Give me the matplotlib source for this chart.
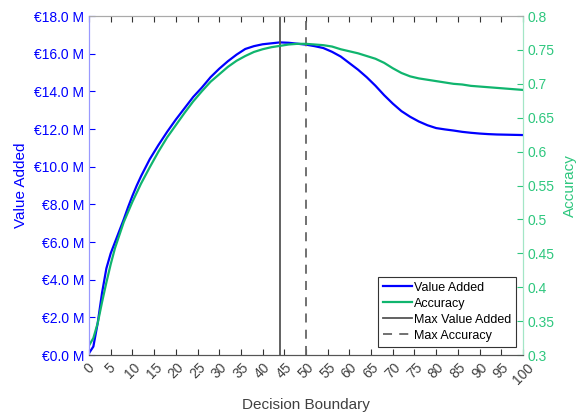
import matplotlib
matplotlib.use("Agg")
import matplotlib.pyplot as plt
from matplotlib.ticker import FuncFormatter

plt.rcParams['font.family'] = ['Liberation Sans', 'DejaVu Sans']

# Value added (millions of euro) vs decision boundary
va_x = [0, 1, 2, 3, 4, 5, 6, 7, 8, 9, 10, 11, 12, 14, 16, 18, 20, 22, 24, 26, 28, 30,
        32, 34, 36, 38, 40, 42, 44, 46, 48, 50, 52, 54, 56, 58, 60, 62, 64, 66, 68,
        70, 72, 74, 76, 78, 80, 82, 84, 86, 88, 90, 92, 94, 96, 98, 100]
va_y = [0.1, 0.45, 1.7, 3.3, 4.6, 5.4, 6.0, 6.6, 7.2, 7.85, 8.45, 9.0, 9.5, 10.4,
        11.15, 11.85, 12.5, 13.1, 13.7, 14.2, 14.75, 15.2, 15.6, 15.95, 16.25, 16.4,
        16.5, 16.55, 16.6, 16.58, 16.53, 16.48, 16.4, 16.3, 16.1, 15.85, 15.5, 15.15,
        14.75, 14.3, 13.8, 13.35, 12.95, 12.65, 12.4, 12.2, 12.05, 11.98, 11.92,
        11.85, 11.8, 11.76, 11.73, 11.71, 11.7, 11.69, 11.68]

# Accuracy vs decision boundary
acc_x = [0, 1, 2, 3, 4, 5, 6, 8, 10, 12, 14, 16, 18, 20, 22, 24, 26, 28, 30, 32, 34,
         36, 38, 40, 42, 44, 46, 48, 50, 52, 54, 56, 58, 60, 62, 64, 66, 68, 70, 72,
         74, 76, 78, 80, 82, 84, 86, 88, 90, 92, 94, 96, 98, 100]
acc_y = [0.314, 0.325, 0.347, 0.378, 0.407, 0.434, 0.458, 0.496, 0.526, 0.553, 0.577,
         0.6, 0.621, 0.639, 0.657, 0.674, 0.689, 0.703, 0.714, 0.725, 0.734, 0.741,
         0.747, 0.751, 0.754, 0.756, 0.758, 0.759, 0.759, 0.758, 0.757, 0.755, 0.751,
         0.748, 0.745, 0.741, 0.737, 0.731, 0.723, 0.716, 0.711, 0.708, 0.706, 0.704,
         0.702, 0.700, 0.699, 0.697, 0.696, 0.695, 0.694, 0.693, 0.692, 0.691]

max_value_x = 44
max_acc_x = 50

x_ticks = list(range(0, 101, 5))
left_ticks = [0, 2, 4, 6, 8, 10, 12, 14, 16, 18]
right_ticks = [0.3, 0.35, 0.4, 0.45, 0.5, 0.55, 0.6, 0.65, 0.7, 0.75, 0.8]

BLUE = '#0000ff'
GREEN_LINE = '#10b56e'
GREEN_TXT = '#2ec77e'
GRAY = '#404040'

fig = plt.figure(figsize=(5.83, 4.12), dpi=100)
ax = fig.add_axes([0.1527, 0.1383, 0.7443, 0.8228])
ax2 = ax.twinx()

l1, = ax.plot(va_x, va_y, color=BLUE, lw=1.6, label='Value Added')
l2, = ax2.plot(acc_x, acc_y, color=GREEN_LINE, lw=1.6, label='Accuracy')
l3 = ax.axvline(max_value_x, color='#555555', lw=1.3, label='Max Value Added')
l4 = ax.axvline(max_acc_x, color='#666666', lw=1.3, ls=(0, (5, 4)), label='Max Accuracy')

ax.set_xlim(0, 100)
ax.set_ylim(0, 18)
ax2.set_ylim(0.3, 0.8)
ax.set_xticks(x_ticks)
ax.set_xticklabels([str(t) for t in x_ticks], rotation=45, ha='center', va='top')
ax.set_yticks(left_ticks)
ax.yaxis.set_major_formatter(FuncFormatter(lambda v, p: '\u20ac%.1f M' % v))
ax2.set_yticks(right_ticks)
ax2.set_yticklabels(['%g' % t for t in right_ticks])

ax.tick_params(axis='x', direction='in', length=4, color='#333333', labelcolor=GRAY,
               labelsize=10, top=True, pad=4)
ax.tick_params(axis='y', direction='in', length=4, color=BLUE, labelcolor=BLUE,
               labelsize=10)
ax2.tick_params(axis='y', direction='in', length=4, color=GREEN_TXT,
                labelcolor=GREEN_TXT, labelsize=10)

for a in (ax, ax2):
    a.spines['top'].set_color('#aaaaaa')
    a.spines['bottom'].set_color('#555555')
    a.spines['left'].set_color('#9999ff')
    a.spines['right'].set_color('#a3e6c6')

ax.set_xlabel('Decision Boundary', color=GRAY, fontsize=11, labelpad=8)
ax.set_ylabel('Value Added', color=BLUE, fontsize=11, labelpad=4)
ax2.set_ylabel('Accuracy', color=GREEN_TXT, fontsize=11, labelpad=6)

leg = ax2.legend([l1, l2, l3, l4], ['Value Added', 'Accuracy', 'Max Value Added', 'Max Accuracy'],
                 loc='lower right', bbox_to_anchor=(0.985, 0.025), fontsize=9,
                 fancybox=False, framealpha=1, edgecolor='#333333', handlelength=2.3,
                 handletextpad=0.2, borderpad=0.4, labelspacing=0.32, borderaxespad=0)
leg.get_frame().set_linewidth(0.8)

fig.savefig('out.png', dpi=100)
